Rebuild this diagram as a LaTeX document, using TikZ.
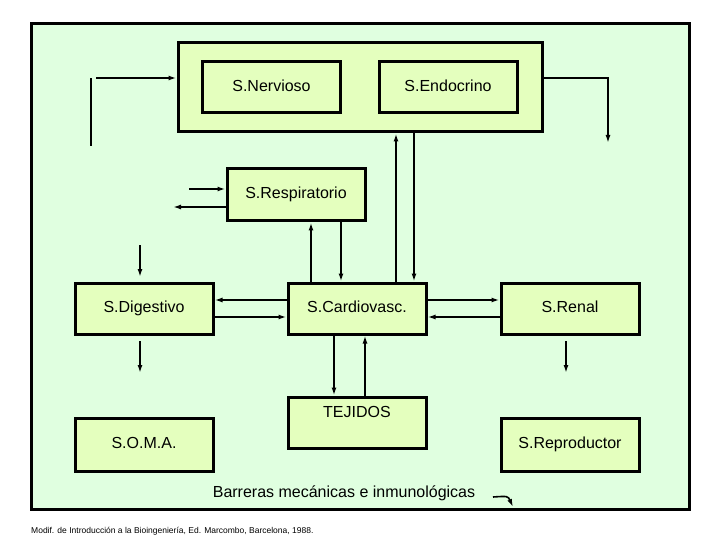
\documentclass[tikz,border=0pt]{standalone}
\usepackage{fontspec}
\setmainfont{Liberation Sans}
\usetikzlibrary{arrows,arrows.meta,positioning,shapes}
\definecolor{bgreen}{RGB}{224,255,224}
\definecolor{bfill}{RGB}{228,255,190}
\begin{document}
\begin{tikzpicture}[x=1pt,y=-1pt,
            sys/.style={draw,rectangle,fill=bfill,line width=3pt,minimum width=138pt,minimum height=51pt,text height=11.5pt,text depth=3.5pt,font=\fontsize{16}{18}\selectfont},
            flow/.style={draw,-{Latex[length=8pt,width=5pt]},line width=1.6pt},
            bold/.style={flow,line width=2.6pt}
          ]
          \useasboundingbox (0,0) rectangle (720,540);
          \node[draw,line width=3pt,fill=bgreen,minimum width=658pt,minimum height=485pt] (frame) at (360,266.5) {};
          \node[sys,minimum width=364pt,minimum height=89pt] (ctrl) at (360,87.5) {};
          \node[sys] (nerv) at (271.5,87.5) {S.Nervioso};
          \node[sys] (endo) at (448,87.5) {S.Endocrino};
          \node[sys,minimum height=52pt] (resp) at (296,195) {S.Respiratorio};
          \node[sys] (dig) at (144,308.5) {S.Digestivo};
          \node[sys] (card) at (357,308.5) {S.Cardiovasc.};
          \node[sys] (ren) at (570,308.5) {S.Renal};
          \node[sys,text depth=22pt] (tej) at (357,422.5) {TEJIDOS};
          \node[sys,minimum height=53pt] (soma) at (144,444.5) {S.O.M.A.};
          \node[sys,minimum height=53pt] (rep) at (570,444.5) {S.Reproductor};
          \node[font=\fontsize{16}{18}\selectfont] (barr) at (344,493) {Barreras mecánicas e inmunológicas};
          \node[anchor=west,font=\fontsize{8.5}{10}\selectfont,inner sep=0pt] (ref) at (31,531) {Modif. de Introducción a la Bioingeniería, Ed. Marcombo, Barcelona, 1988.};

          %free ends
          \coordinate (inA) at (91,146);
          \coordinate (inB) at (91,78);
          \coordinate (outA) at (608,78);
          \coordinate (outB) at (608,143);
          \coordinate (airIn) at (189,189);
          \coordinate (airOut) at (173,207);
          \coordinate (digIn) at (140,245);
          \coordinate (digOut) at (140,373);
          \coordinate (renOut) at (566,373);

          %control loop
          \draw[line width=1.6pt] (inA) -- (inB);
          \path[flow] (96,78) -- (ctrl.west |- 0,78);
          \path[flow] (ctrl.east |- 0,78) -- (outA) -- (outB);

          %respiratory
          \path[bold] (airIn) -- (resp.west |- airIn);
          \path[bold] (resp.west |- airOut) -- (airOut);
          \path[flow] (card.north -| 311,0) -- (resp.south -| 311,0);
          \path[flow] (resp.south -| 341,0) -- (card.north -| 341,0);
          \path[flow] (card.north -| 396,0) -- (ctrl.south -| 396,0);
          \path[flow] (ctrl.south -| 414,0) -- (card.north -| 414,0);

          %circulation
          \path[flow] (digIn) -- (140,277);
          \path[flow] (card.west |- 0,300) -- (dig.east |- 0,300);
          \path[flow] (dig.east |- 0,317) -- (card.west |- 0,317);
          \path[flow] (card.east |- 0,300) -- (ren.west |- 0,300);
          \path[flow] (ren.west |- 0,317) -- (card.east |- 0,317);
          \path[flow] (140,341) -- (digOut);
          \path[flow] (566,341) -- (renOut);
          \path[flow] (card.south -| 334,0) -- (tej.north -| 334,0);
          \path[flow] (tej.north -| 365,0) -- (card.south -| 365,0);

          %barrier
          \path[flow,line width=1.6pt] (493,497) .. controls (508,496) .. (513,507);
      \end{tikzpicture}
\end{document}
